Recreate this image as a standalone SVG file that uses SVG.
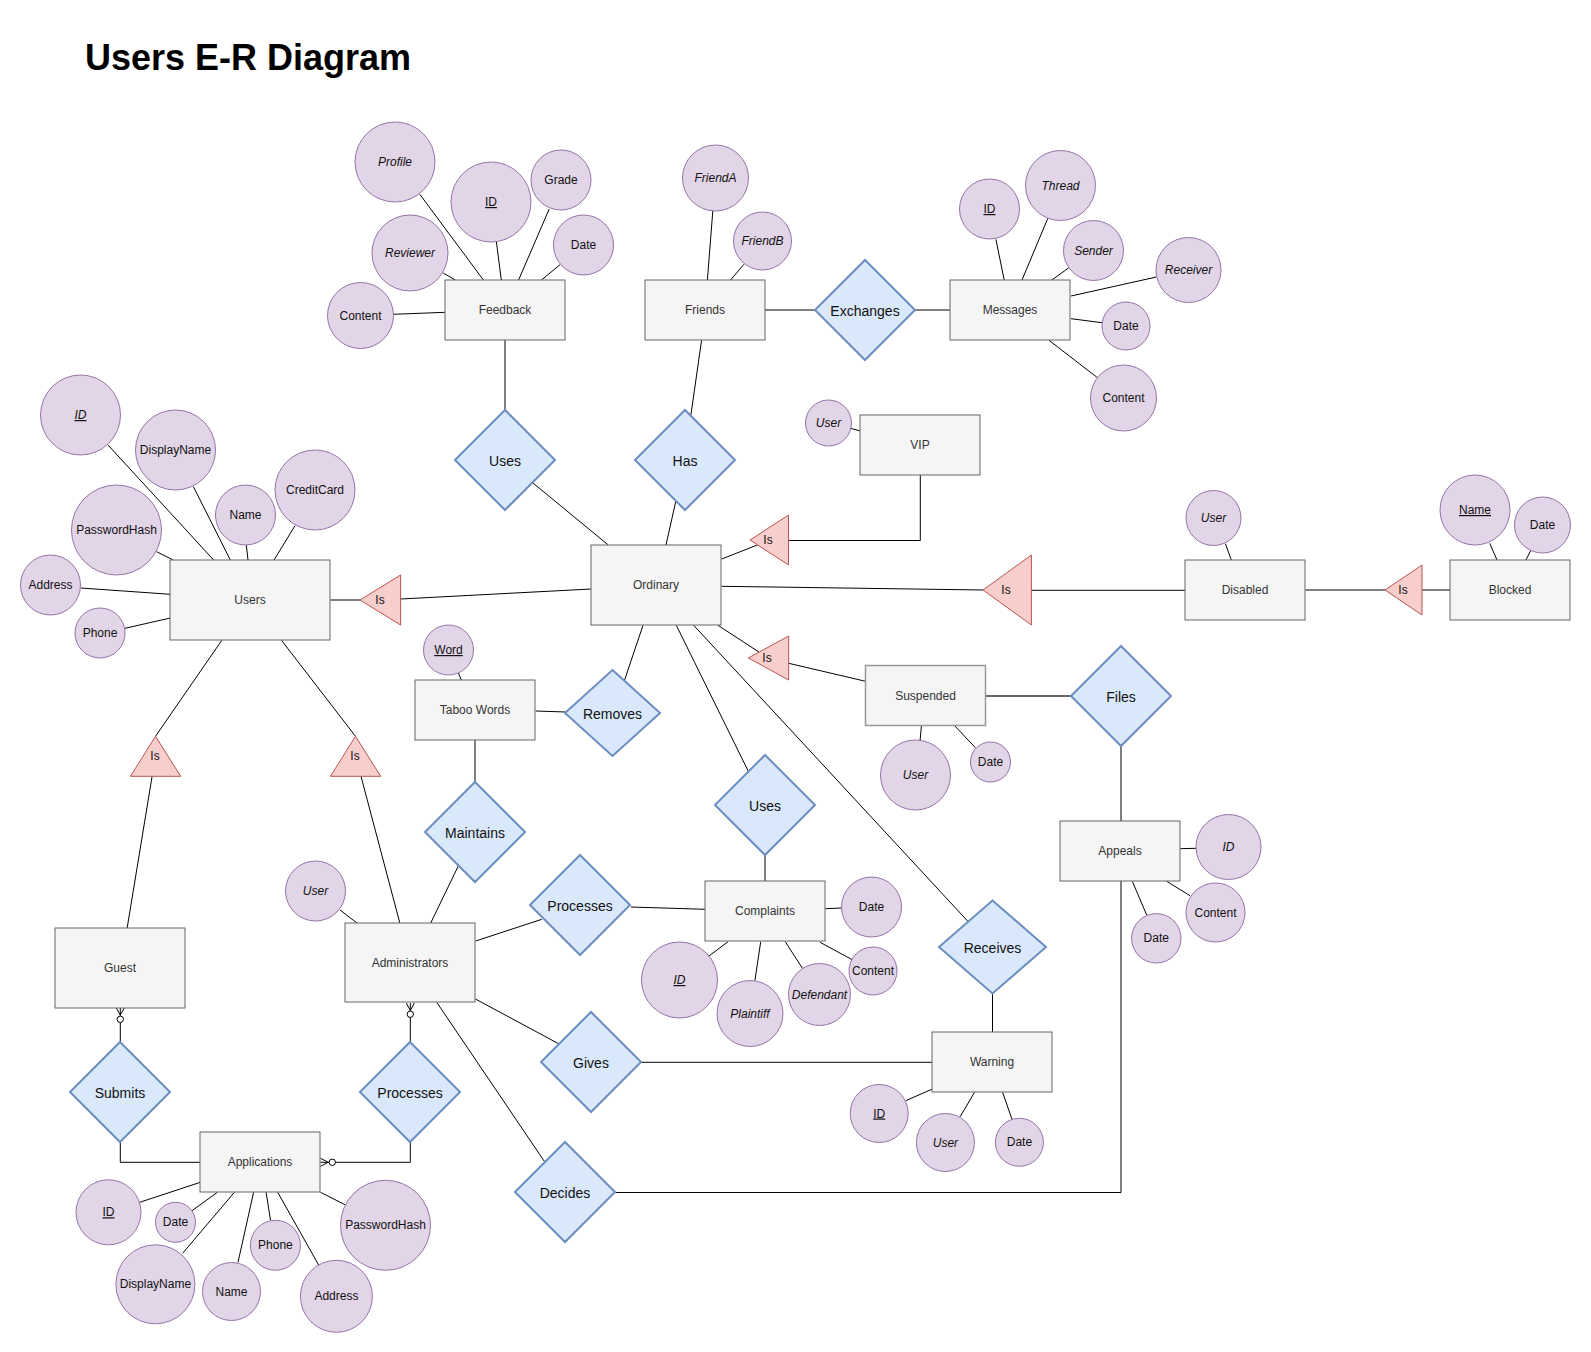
<svg xmlns="http://www.w3.org/2000/svg" width="1591" height="1352" viewBox="0 0 1591 1352">
<style>
text{font-family:"Liberation Sans",Arial,sans-serif;text-anchor:middle}
.title{font-size:36px;font-weight:bold;text-anchor:start;fill:#000}
.ent rect{fill:#f5f5f5;stroke:#666666;stroke-width:1}
.ent text{font-size:12px;fill:#333333}
.attr circle{fill:#e1d5e7;stroke:#9673a6;stroke-width:1}
.attr text{font-size:12px;fill:#111}
.rel polygon{fill:#dae8fc;stroke:#6c8ebf;stroke-width:2}
.rel text{font-size:14px;fill:#111}
.isa polygon{fill:#f8cecc;stroke:#b85450;stroke-width:1}
.isa text{font-size:12px;fill:#111}
.it{font-style:italic}
.ul{text-decoration:underline}
#connectors line,#connectors polyline,#connectors path{stroke:#000;stroke-width:1;fill:none}
#connectors .thick{stroke:#666;stroke-width:2}
#connectors circle{fill:#fff;stroke:#000;stroke-width:1}
</style>
<rect width="1591" height="1352" fill="#fff"/>
<text class="title" x="85" y="70">Users E-R Diagram</text>

<g id="connectors">
<line x1="419.8" y1="194.3" x2="483.4" y2="280"/>
<line x1="496.4" y1="241.7" x2="501.3" y2="280"/>
<line x1="549.2" y1="209" x2="518.6" y2="280"/>
<line x1="560" y1="264.7" x2="541.5" y2="280"/>
<line x1="443.2" y1="273" x2="455.4" y2="280"/>
<line x1="393" y1="314.3" x2="445.5" y2="312.3"/>
<line x1="505" y1="340" x2="505" y2="410"/>
<line x1="712.8" y1="211" x2="707.4" y2="280"/>
<line x1="743.9" y1="264.3" x2="730.6" y2="280"/>
<line x1="765" y1="310" x2="815" y2="310"/>
<line x1="915" y1="310" x2="950" y2="310"/>
<line x1="701.6" y1="340" x2="690.8" y2="415.7"/>
<line x1="995.9" y1="239.3" x2="1004.2" y2="280"/>
<line x1="1047.8" y1="218.3" x2="1022" y2="280"/>
<line x1="1068.9" y1="267.7" x2="1051.9" y2="280"/>
<line x1="1156.4" y1="277" x2="1071" y2="296"/>
<line x1="1102" y1="322.7" x2="1071" y2="318.7"/>
<line x1="1097.5" y1="377.7" x2="1049" y2="340.3"/>
<line x1="850.4" y1="428.3" x2="860.4" y2="431"/>
<polyline points="920.3,475 920.3,540.5 788.5,540.5"/>
<line x1="108" y1="445" x2="213.9" y2="560.3"/>
<line x1="193.4" y1="486.7" x2="230.5" y2="560.3"/>
<line x1="246.3" y1="545" x2="248" y2="560"/>
<line x1="295" y1="525.7" x2="274" y2="560"/>
<line x1="156.6" y1="551.7" x2="173.2" y2="560"/>
<line x1="80.7" y1="588" x2="170.4" y2="594.3"/>
<line x1="125" y1="628.3" x2="170.4" y2="618"/>
<line x1="330.6" y1="600" x2="360" y2="600"/>
<line x1="400.6" y1="599" x2="591.3" y2="589"/>
<line x1="533" y1="483" x2="608.3" y2="545"/>
<line x1="675.7" y1="501.7" x2="666" y2="545"/>
<line x1="721.7" y1="559" x2="757.3" y2="545"/>
<line x1="721.7" y1="586.3" x2="983" y2="590"/>
<line x1="1031.4" y1="590.3" x2="1185.3" y2="590.3"/>
<line x1="1225.4" y1="543.7" x2="1231.3" y2="560"/>
<line x1="1305.6" y1="590" x2="1385" y2="590"/>
<line x1="1422" y1="590" x2="1450" y2="590"/>
<line x1="1489.7" y1="543.3" x2="1497" y2="560"/>
<line x1="1531" y1="550" x2="1525.9" y2="560"/>
<line x1="718" y1="625.3" x2="759.3" y2="652.3"/>
<line x1="788.7" y1="663.3" x2="865.6" y2="681.3"/>
<line class="thick" x1="985.7" y1="696" x2="1071" y2="696"/>
<line x1="921.4" y1="726" x2="920.1" y2="740.3"/>
<line x1="954.9" y1="726" x2="975.4" y2="747.7"/>
<line x1="1121" y1="746" x2="1121" y2="821"/>
<line x1="1180.3" y1="848.7" x2="1196" y2="848.3"/>
<line x1="1166.7" y1="881.3" x2="1190" y2="895.7"/>
<line x1="1132.3" y1="881.3" x2="1146.7" y2="915"/>
<polyline points="1121,881 1121,1192.5 615.5,1192.5"/>
<line x1="643" y1="625.3" x2="624.6" y2="680"/>
<line x1="535.7" y1="711" x2="565.6" y2="712"/>
<line x1="458.2" y1="672.3" x2="461.4" y2="680.3"/>
<line x1="475" y1="740" x2="475" y2="782"/>
<line x1="458.6" y1="865.3" x2="430.4" y2="923.7"/>
<line x1="676.3" y1="625.3" x2="748.7" y2="772"/>
<line x1="765" y1="855" x2="765" y2="881"/>
<line x1="693.7" y1="625.3" x2="968.5" y2="922"/>
<line x1="992.5" y1="993.5" x2="992.5" y2="1032"/>
<line x1="630.8" y1="907" x2="705.4" y2="909.3"/>
<line x1="475.7" y1="941" x2="541.8" y2="919.3"/>
<line x1="825.4" y1="908.7" x2="841.5" y2="908"/>
<line x1="820.1" y1="942.3" x2="852.7" y2="960"/>
<line x1="785.3" y1="941.7" x2="802.7" y2="968.7"/>
<line x1="760.7" y1="941.7" x2="754.9" y2="980.7"/>
<line x1="728.1" y1="941.7" x2="708" y2="956.7"/>
<line x1="340" y1="910" x2="357.9" y2="923.7"/>
<line x1="221.8" y1="640.3" x2="155.5" y2="736.3"/>
<line x1="281.5" y1="640.3" x2="355.5" y2="736.3"/>
<line x1="152.1" y1="776.3" x2="127.1" y2="928.3"/>
<line x1="361" y1="776.3" x2="400" y2="923.7"/>
<line x1="475.4" y1="999" x2="559.7" y2="1044.3"/>
<line x1="641.9" y1="1062.3" x2="932.5" y2="1062.3"/>
<line x1="437" y1="1002.7" x2="545" y2="1162.3"/>
<line x1="905.7" y1="1100.7" x2="932.5" y2="1089"/>
<line x1="960.2" y1="1116.7" x2="974.5" y2="1092.3"/>
<line x1="1012" y1="1119.3" x2="1002.6" y2="1092.3"/>
<path d="M116.3,1008 L120.3,1015 L124.3,1008 M120.3,1008 L120.3,1016"/>
<circle cx="120.3" cy="1019.3" r="3.2"/>
<line x1="120.3" y1="1022.5" x2="120.3" y2="1042"/>
<path d="M406.3,1003 L410.3,1010.5 L414.3,1003 M410.3,1003 L410.3,1011"/>
<circle cx="410.3" cy="1014.2" r="3.2"/>
<line x1="410.3" y1="1017.4" x2="410.3" y2="1042"/>
<polyline points="120.3,1142 120.3,1162.3 200.4,1162.3"/>
<polyline points="410.3,1142 410.3,1162.3 335.5,1162.3"/>
<circle cx="332.3" cy="1162.3" r="3.2"/>
<path d="M320.5,1158.3 L328.3,1162.3 L320.5,1166.3 M320.5,1162.3 L329,1162.3"/>
<line x1="139.7" y1="1202.3" x2="200.4" y2="1182.3"/>
<line x1="192" y1="1210.7" x2="217.4" y2="1192.3"/>
<line x1="182.6" y1="1253.3" x2="234.4" y2="1192.3"/>
<line x1="238" y1="1262.3" x2="253.6" y2="1192.3"/>
<line x1="270.5" y1="1220.3" x2="266.1" y2="1192.3"/>
<line x1="318.8" y1="1265.3" x2="277.7" y2="1192.3"/>
<line x1="345" y1="1204.7" x2="320.5" y2="1192.3"/>
</g>

<g id="feedback" class="ent"><rect x="445" y="280" width="120" height="60"/><text x="505" y="314">Feedback</text></g>
<g id="friends" class="ent"><rect x="645" y="280" width="120" height="60"/><text x="705" y="314">Friends</text></g>
<g id="messages" class="ent"><rect x="950" y="280" width="120" height="60"/><text x="1010" y="314">Messages</text></g>
<g id="vip" class="ent"><rect x="860" y="415" width="120" height="60"/><text x="920" y="449">VIP</text></g>
<g id="users" class="ent"><rect x="170" y="560" width="160" height="80"/><text x="250" y="604">Users</text></g>
<g id="ordinary" class="ent"><rect x="591" y="545" width="130" height="80"/><text x="656" y="589">Ordinary</text></g>
<g id="disabled" class="ent"><rect x="1185" y="560" width="120" height="60"/><text x="1245" y="594">Disabled</text></g>
<g id="blocked" class="ent"><rect x="1450" y="560" width="120" height="60"/><text x="1510" y="594">Blocked</text></g>
<g id="taboo" class="ent"><rect x="415" y="680" width="120" height="60"/><text x="475" y="714">Taboo Words</text></g>
<g id="suspended" class="ent"><rect x="865.5" y="665.5" width="120" height="60" style="stroke:#999999;stroke-width:1.5"/><text x="925.5" y="699.5">Suspended</text></g>
<g id="appeals" class="ent"><rect x="1060" y="821" width="120" height="60"/><text x="1120" y="855">Appeals</text></g>
<g id="complaints" class="ent"><rect x="705" y="881" width="120" height="60"/><text x="765" y="915">Complaints</text></g>
<g id="guest" class="ent"><rect x="55" y="928" width="130" height="80"/><text x="120" y="972">Guest</text></g>
<g id="administrators" class="ent"><rect x="345" y="923" width="130" height="79"/><text x="410" y="966.5">Administrators</text></g>
<g id="warning" class="ent"><rect x="932" y="1032" width="120" height="60"/><text x="992" y="1066">Warning</text></g>
<g id="applications" class="ent"><rect x="200" y="1132" width="120" height="60"/><text x="260" y="1166">Applications</text></g>

<g id="rel-exchanges" class="rel"><polygon points="865,260 915,310 865,360 815,310"/><text x="865" y="316">Exchanges</text></g>
<g id="rel-uses-feedback" class="rel"><polygon points="505,410 555,460 505,510 455,460"/><text x="505" y="466">Uses</text></g>
<g id="rel-has" class="rel"><polygon points="685,410 735,460 685,510 635,460"/><text x="685" y="466">Has</text></g>
<g id="rel-removes" class="rel"><polygon points="612.5,670 660,713 612.5,756 565,713"/><text x="612.5" y="719">Removes</text></g>
<g id="rel-files" class="rel"><polygon points="1121,646 1171,696 1121,746 1071,696"/><text x="1121" y="702">Files</text></g>
<g id="rel-maintains" class="rel"><polygon points="475,782 525,832 475,882 425,832"/><text x="475" y="838">Maintains</text></g>
<g id="rel-uses-complaints" class="rel"><polygon points="765,755 815,805 765,855 715,805"/><text x="765" y="811">Uses</text></g>
<g id="rel-processes-complaints" class="rel"><polygon points="580,855 630,905 580,955 530,905"/><text x="580" y="911">Processes</text></g>
<g id="rel-receives" class="rel"><polygon points="992.5,900.5 1046,947 992.5,993.5 939,947"/><text x="992.5" y="953">Receives</text></g>
<g id="rel-gives" class="rel"><polygon points="591,1012 641,1062 591,1112 541,1062"/><text x="591" y="1068">Gives</text></g>
<g id="rel-submits" class="rel"><polygon points="120,1042 170,1092 120,1142 70,1092"/><text x="120" y="1098">Submits</text></g>
<g id="rel-processes-applications" class="rel"><polygon points="410,1042 460,1092 410,1142 360,1092"/><text x="410" y="1098">Processes</text></g>
<g id="rel-decides" class="rel"><polygon points="565,1142 615,1192 565,1242 515,1192"/><text x="565" y="1198">Decides</text></g>

<g id="is-users" class="isa"><polygon points="360,600 400.6,575 400.6,625"/><text x="380" y="604">Is</text></g>
<g id="is-vip" class="isa"><polygon points="750,540 788.5,515 788.5,565"/><text x="768" y="544">Is</text></g>
<g id="is-disabled" class="isa"><polygon points="983,590 1031.4,555 1031.4,625"/><text x="1006" y="594">Is</text></g>
<g id="is-blocked" class="isa"><polygon points="1385,590 1422,565 1422,615"/><text x="1403" y="594">Is</text></g>
<g id="is-suspended" class="isa"><polygon points="748.3,658 788.7,636 788.7,680"/><text x="767" y="662">Is</text></g>
<g id="is-guest" class="isa"><polygon points="155.5,736.3 180.7,776.3 130.4,776.3"/><text x="155" y="760">Is</text></g>
<g id="is-admin" class="isa"><polygon points="355.5,736.3 380.7,776.3 330.4,776.3"/><text x="355" y="760">Is</text></g>

<g id="a-feedback-profile" class="attr"><circle cx="395" cy="162" r="40"/><text class="it" x="395" y="166">Profile</text></g>
<g id="a-feedback-id" class="attr"><circle cx="491" cy="202" r="40"/><text class="ul" x="491" y="206">ID</text></g>
<g id="a-feedback-grade" class="attr"><circle cx="561" cy="180" r="30"/><text x="561" y="184">Grade</text></g>
<g id="a-feedback-date" class="attr"><circle cx="583.5" cy="245" r="30"/><text x="583.5" y="249">Date</text></g>
<g id="a-feedback-reviewer" class="attr"><circle cx="410" cy="253" r="38"/><text class="it" x="410" y="257">Reviewer</text></g>
<g id="a-feedback-content" class="attr"><circle cx="360.5" cy="315.5" r="33"/><text x="360.5" y="319.5">Content</text></g>

<g id="a-friends-a" class="attr"><circle cx="715.5" cy="178" r="33"/><text class="it" x="715.5" y="182">FriendA</text></g>
<g id="a-friends-b" class="attr"><circle cx="762.5" cy="241" r="29"/><text class="it" x="762.5" y="245">FriendB</text></g>

<g id="a-msg-id" class="attr"><circle cx="989.5" cy="209" r="30"/><text class="ul" x="989.5" y="213">ID</text></g>
<g id="a-msg-thread" class="attr"><circle cx="1060.5" cy="185.5" r="35"/><text class="it" x="1060.5" y="189.5">Thread</text></g>
<g id="a-msg-sender" class="attr"><circle cx="1093.5" cy="250.5" r="30"/><text class="it" x="1093.5" y="254.5">Sender</text></g>
<g id="a-msg-receiver" class="attr"><circle cx="1188.5" cy="270" r="32.5"/><text class="it" x="1188.5" y="274">Receiver</text></g>
<g id="a-msg-date" class="attr"><circle cx="1126" cy="326" r="24"/><text x="1126" y="330">Date</text></g>
<g id="a-msg-content" class="attr"><circle cx="1123.5" cy="398" r="33"/><text x="1123.5" y="402">Content</text></g>

<g id="a-vip-user" class="attr"><circle cx="828.5" cy="423" r="23"/><text class="it" x="828.5" y="427">User</text></g>

<g id="a-users-id" class="attr"><circle cx="80.5" cy="415" r="40"/><text class="it ul" x="80.5" y="419">ID</text></g>
<g id="a-users-displayname" class="attr"><circle cx="175.5" cy="450" r="40"/><text x="175.5" y="454">DisplayName</text></g>
<g id="a-users-name" class="attr"><circle cx="245.5" cy="515" r="30"/><text x="245.5" y="519">Name</text></g>
<g id="a-users-creditcard" class="attr"><circle cx="315" cy="490" r="40"/><text x="315" y="494">CreditCard</text></g>
<g id="a-users-passwordhash" class="attr"><circle cx="116.5" cy="530" r="45"/><text x="116.5" y="534">PasswordHash</text></g>
<g id="a-users-address" class="attr"><circle cx="50.5" cy="585" r="30"/><text x="50.5" y="589">Address</text></g>
<g id="a-users-phone" class="attr"><circle cx="100" cy="633" r="25"/><text x="100" y="637">Phone</text></g>

<g id="a-disabled-user" class="attr"><circle cx="1213.5" cy="518" r="27.5"/><text class="it" x="1213.5" y="522">User</text></g>
<g id="a-blocked-name" class="attr"><circle cx="1475" cy="510" r="35"/><text class="ul" x="1475" y="514">Name</text></g>
<g id="a-blocked-date" class="attr"><circle cx="1542.5" cy="525" r="28"/><text x="1542.5" y="529">Date</text></g>

<g id="a-taboo-word" class="attr"><circle cx="448.5" cy="650" r="25"/><text class="ul" x="448.5" y="654">Word</text></g>

<g id="a-susp-user" class="attr"><circle cx="915.5" cy="775" r="35"/><text class="it" x="915.5" y="779">User</text></g>
<g id="a-susp-date" class="attr"><circle cx="990.5" cy="762" r="20"/><text x="990.5" y="766">Date</text></g>

<g id="a-appeals-id" class="attr"><circle cx="1228.5" cy="847" r="32.5"/><text class="it" x="1228.5" y="851">ID</text></g>
<g id="a-appeals-content" class="attr"><circle cx="1215.5" cy="912.5" r="29.5"/><text x="1215.5" y="916.5">Content</text></g>
<g id="a-appeals-date" class="attr"><circle cx="1156.3" cy="938.3" r="24.7"/><text x="1156.3" y="942.3">Date</text></g>

<g id="a-compl-date" class="attr"><circle cx="871.5" cy="907" r="30"/><text x="871.5" y="911">Date</text></g>
<g id="a-compl-content" class="attr"><circle cx="873" cy="971" r="24"/><text x="873" y="975">Content</text></g>
<g id="a-compl-defendant" class="attr"><circle cx="819.5" cy="994.5" r="31"/><text class="it" x="819.5" y="998.5">Defendant</text></g>
<g id="a-compl-plaintiff" class="attr"><circle cx="750" cy="1013.5" r="33"/><text class="it" x="750" y="1017.5">Plaintiff</text></g>
<g id="a-compl-id" class="attr"><circle cx="679.5" cy="980" r="38"/><text class="it ul" x="679.5" y="984">ID</text></g>

<g id="a-admin-user" class="attr"><circle cx="315.5" cy="891" r="30"/><text class="it" x="315.5" y="895">User</text></g>

<g id="a-warning-id" class="attr"><circle cx="879.2" cy="1113.5" r="29"/><text class="ul" x="879.2" y="1117.5">ID</text></g>
<g id="a-warning-user" class="attr"><circle cx="945.4" cy="1142.5" r="29"/><text class="it" x="945.4" y="1146.5">User</text></g>
<g id="a-warning-date" class="attr"><circle cx="1019.4" cy="1142.3" r="24"/><text x="1019.4" y="1146.3">Date</text></g>

<g id="a-app-id" class="attr"><circle cx="108.5" cy="1212.3" r="32.5"/><text class="ul" x="108.5" y="1216.3">ID</text></g>
<g id="a-app-date" class="attr"><circle cx="175.5" cy="1222.3" r="20"/><text x="175.5" y="1226.3">Date</text></g>
<g id="a-app-displayname" class="attr"><circle cx="155.4" cy="1284.3" r="39.5"/><text x="155.4" y="1288.3">DisplayName</text></g>
<g id="a-app-name" class="attr"><circle cx="231.5" cy="1291.5" r="29"/><text x="231.5" y="1295.5">Name</text></g>
<g id="a-app-phone" class="attr"><circle cx="275.4" cy="1245.3" r="25"/><text x="275.4" y="1249.3">Phone</text></g>
<g id="a-app-address" class="attr"><circle cx="336.4" cy="1296.3" r="36"/><text x="336.4" y="1300.3">Address</text></g>
<g id="a-app-passwordhash" class="attr"><circle cx="385.5" cy="1225.3" r="45"/><text x="385.5" y="1229.3">PasswordHash</text></g>
</svg>
